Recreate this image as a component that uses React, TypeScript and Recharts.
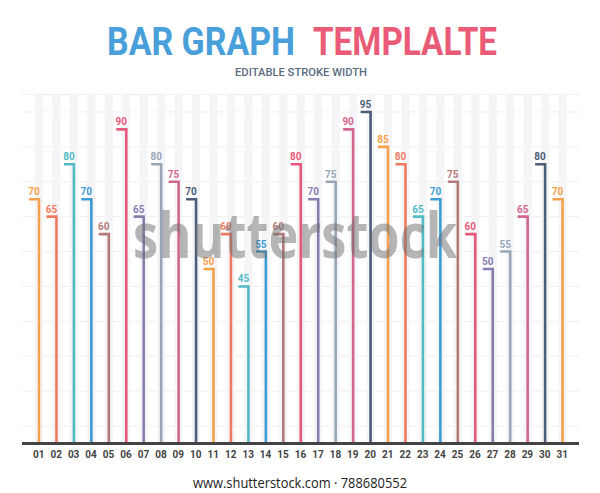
import React from 'react';
import { BarChart, Bar, XAxis, YAxis, CartesianGrid, LabelList } from 'recharts';

const days = [
  '01', '02', '03', '04', '05', '06', '07', '08', '09', '10',
  '11', '12', '13', '14', '15', '16', '17', '18', '19', '20',
  '21', '22', '23', '24', '25', '26', '27', '28', '29', '30', '31',
];
const values = [
  70, 65, 80, 70, 60, 90, 65, 80, 75, 70,
  50, 60, 45, 55, 60, 80, 70, 75, 90, 95,
  85, 80, 65, 70, 75, 60, 50, 55, 65, 80, 70,
];
const palette = [
  '#f5a04a', '#ee7b5f', '#52b9c5', '#3d9bd5', '#b47a78',
  '#e8587a', '#8b7cb0', '#97a6b5', '#d1678f', '#4b5d77',
];
const yTicks = [5, 10, 15, 20, 25, 30, 35, 40, 45, 50, 55, 60, 65, 70, 75, 80, 85, 90, 95];

const data = days.map((day, i) => ({ day, value: values[i], color: palette[i % palette.length] }));

const FONT = 'Roboto, "Noto Sans", sans-serif';

// each bar is a "flag": short top stroke to the left, then a line down
const FlagShape = (props: any) => {
  const { x, y, width, height, payload } = props;
  const cx = x + width / 2;
  return (
    <path
      d={`M${cx - 10},${y} H${cx} V${y + height}`}
      fill="none"
      stroke={payload.color}
      strokeWidth={2.6}
      strokeLinejoin="miter"
    />
  );
};

const FlagLabel = (props: any) => {
  const { x, y, width, value, index } = props;
  const cx = x + width / 2;
  return (
    <text
      x={cx - 5}
      y={y - 4}
      textAnchor="middle"
      fontFamily={FONT}
      fontWeight={700}
      fontSize={10}
      fill={data[index].color}
    >
      {value}
    </text>
  );
};

const App: React.FC = () => {
  return (
    <div style={{ position: 'absolute', left: 0, top: 0, width: 600, height: 493, background: '#fff' }}>
      <BarChart
        width={600}
        height={493}
        data={data}
        margin={{ top: 94.5, right: 21, bottom: 19.5, left: 22 }}
      >
        <CartesianGrid vertical={false} stroke="#efeff2" strokeWidth={1} />
        <YAxis hide domain={[0, 100]} ticks={yTicks} />
        <XAxis
          dataKey="day"
          height={30}
          padding={{ left: 8, right: 8 }}
          axisLine={{ stroke: '#444444', strokeWidth: 2.8 }}
          tickLine={false}
          tickSize={0}
          tickMargin={7}
          tick={{ fill: '#444444', fontSize: 10, fontWeight: 700, fontFamily: FONT }}
          interval={0}
        />
        <Bar
          dataKey="value"
          barSize={8}
          background={{ fill: '#f5f5f8' }}
          shape={FlagShape}
          isAnimationActive={false}
        >
          <LabelList dataKey="value" content={FlagLabel} />
        </Bar>
      </BarChart>
      <svg
        width={600}
        height={493}
        style={{ position: 'absolute', left: 0, top: 0, pointerEvents: 'none' }}
      >
        <text x={107} y={55} fontFamily={FONT} fontWeight={700} fontSize={38} fill="#489fd9"
          textLength={188} lengthAdjust="spacingAndGlyphs">BAR GRAPH</text>
        <text x={313} y={55} fontFamily={FONT} fontWeight={700} fontSize={38} fill="#e95b77"
          textLength={184} lengthAdjust="spacingAndGlyphs">TEMPLALTE</text>
        <text x={235} y={76} fontFamily={FONT} fontWeight={500} fontSize={11} fill="#5b6b82"
          textLength={132} lengthAdjust="spacingAndGlyphs">EDITABLE STROKE WIDTH</text>
        <text x={133} y={258} fontFamily={'"Open Sans", sans-serif'} fontWeight={700} fontSize={62}
          fill="#6e6e6e" fillOpacity={0.5} textLength={324} lengthAdjust="spacingAndGlyphs">shutterstock</text>
        <text x={193} y={488} fontFamily={'"Open Sans", sans-serif'} fontSize={14} fill="#222"
          textLength={214} lengthAdjust="spacingAndGlyphs">www.shutterstock.com · 788680552</text>
      </svg>
    </div>
  );
};

export default App;
